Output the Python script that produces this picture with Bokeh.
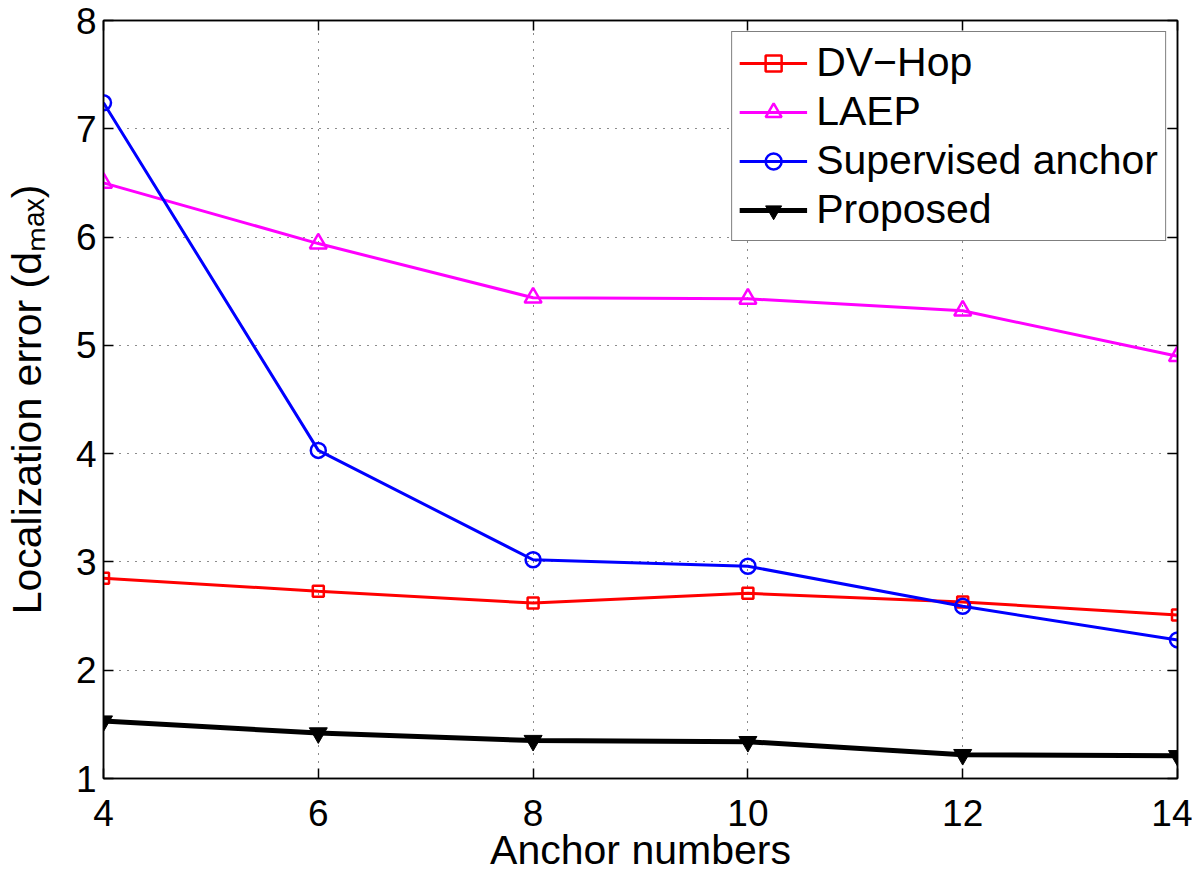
from bokeh.plotting import figure
from bokeh.models import LinearAxis, FixedTicker, Range1d, Legend, LegendItem
from bokeh.embed import file_html
from bokeh.resources import INLINE

anchors = [4, 6, 8, 10, 12, 14]
dv_hop = [2.85, 2.73, 2.62, 2.71, 2.63, 2.51]
laep = [6.50, 5.94, 5.44, 5.43, 5.32, 4.90]
supervised = [7.24, 4.03, 3.02, 2.96, 2.59, 2.28]
proposed = [1.53, 1.42, 1.35, 1.34, 1.22, 1.21]

x_ticks = [4, 6, 8, 10, 12, 14]
y_ticks = [1, 2, 3, 4, 5, 6, 7, 8]

FONT = "Liberation Sans"

p = figure(output_backend="svg", toolbar_location=None,
           x_range=Range1d(4, 14), y_range=Range1d(1, 8),
           frame_width=1074, frame_height=758,
           min_border_left=103, min_border_top=20, min_border_right=15, min_border_bottom=88)

p.background_fill_color = "white"
p.border_fill_color = "white"
p.outline_line_color = "black"
p.outline_line_width = 1.5

for ax in (p.xaxis[0], p.yaxis[0]):
    ax.major_tick_in = 10
    ax.major_tick_out = 0
    ax.minor_tick_in = 0
    ax.minor_tick_out = 0
    ax.axis_line_color = "black"
    ax.axis_line_width = 1.5
    ax.major_tick_line_width = 1.5
    ax.major_label_text_font = FONT
    ax.major_label_text_font_size = "37px"
    ax.major_label_text_color = "black"
    ax.axis_label_text_font = FONT
    ax.axis_label_text_font_size = "41px"
    ax.axis_label_text_font_style = "normal"
    ax.axis_label_text_color = "black"

p.xaxis[0].ticker = FixedTicker(ticks=x_ticks)
p.yaxis[0].ticker = FixedTicker(ticks=y_ticks)
p.xaxis[0].axis_label = "Anchor numbers"
p.yaxis[0].axis_label = "Localization error (dₘₐₓ)"
p.xaxis[0].major_label_standoff = 21
p.xaxis[0].axis_label_standoff = -2
p.yaxis[0].major_label_standoff = 7
p.yaxis[0].axis_label_standoff = 23

# Mirrored ticks on top and right (MATLAB box style)
top = LinearAxis(ticker=FixedTicker(ticks=x_ticks), major_label_text_font_size="1px",
                 major_label_text_color=None,
                 major_tick_in=10, major_tick_out=0, minor_tick_in=0, minor_tick_out=0,
                 major_label_standoff=0, axis_line_width=1.5, major_tick_line_width=1.5)
right = LinearAxis(ticker=FixedTicker(ticks=y_ticks), major_label_text_font_size="1px",
                   major_label_text_color=None,
                   major_tick_in=10, major_tick_out=0, minor_tick_in=0, minor_tick_out=0,
                   major_label_standoff=0, axis_line_width=1.5, major_tick_line_width=1.5)
p.add_layout(top, "above")
p.add_layout(right, "right")

for g in (p.xgrid[0], p.ygrid[0]):
    g.grid_line_color = "black"
    g.grid_line_dash = "1 7"
    g.grid_line_width = 1
    g.grid_line_alpha = 0.9
p.xgrid[0].ticker = FixedTicker(ticks=x_ticks)
p.ygrid[0].ticker = FixedTicker(ticks=y_ticks)

r1l = p.line(anchors, dv_hop, line_color="#ff0000", line_width=3)
r1m = p.scatter(anchors, dv_hop, marker="square", size=11, line_color="#ff0000",
                fill_color=None, line_width=2.5)
r2l = p.line(anchors, laep, line_color="#ff00ff", line_width=3)
r2m = p.scatter(anchors, laep, marker="triangle", size=17, line_color="#ff00ff",
                fill_color=None, line_width=2.5)
r3l = p.line(anchors, supervised, line_color="#0000ff", line_width=3)
r3m = p.scatter(anchors, supervised, marker="circle", size=15, line_color="#0000ff",
                fill_color=None, line_width=2.5)
r4l = p.line(anchors, proposed, line_color="black", line_width=5)
r4m = p.scatter(anchors, proposed, marker="inverted_triangle", size=18, line_color="black",
                fill_color="black", line_width=1)

legend = Legend(items=[
    LegendItem(label="DV\u2212Hop", renderers=[r1l, r1m]),
    LegendItem(label="LAEP", renderers=[r2l, r2m]),
    LegendItem(label="Supervised anchor", renderers=[r3l, r3m]),
    LegendItem(label="Proposed", renderers=[r4l, r4m]),
], location="top_right")
legend.label_text_font = FONT
legend.label_text_font_size = "41px"
legend.label_text_color = "black"
legend.glyph_width = 68
legend.glyph_height = 40
legend.label_height = 40
legend.label_standoff = 9
legend.spacing = 2
legend.padding = 7
legend.margin = 11
legend.border_line_color = "black"
legend.border_line_width = 1.5
legend.background_fill_color = "white"
legend.background_fill_alpha = 1.0
p.add_layout(legend, "center")

open("out.html", "w").write(file_html(p, INLINE))
